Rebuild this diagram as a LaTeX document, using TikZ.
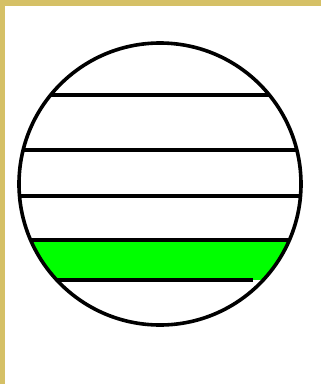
\documentclass[tikz,border=0pt]{standalone}
\definecolor{frametan}{RGB}{213,192,102}
\definecolor{bandgreen}{RGB}{0,255,0}
\begin{document}
\begin{tikzpicture}[x=1pt,y=-1pt,
  rule/.style={line width=3.6pt},
  ring/.style={line width=3.6pt}]
\useasboundingbox (0,0) rectangle (321,384);
\fill[white] (0,0) rectangle (321,384);
\fill[frametan] (0,0) rectangle (321,6);
\fill[frametan] (0,0) rectangle (5,384);
\begin{scope}
  \clip (160,184) circle[radius=141];
  \fill[bandgreen] (0,240) rectangle (321,280);
  \draw[rule] (0,95) -- (321,95);
  \draw[rule] (0,150) -- (321,150);
  \draw[rule] (0,196) -- (321,196);
  \draw[rule] (0,240) -- (321,240);
  \draw[rule] (50,280) -- (253,280);
\end{scope}
\draw[ring] (160,184) circle[radius=141];
\end{tikzpicture}
\end{document}
